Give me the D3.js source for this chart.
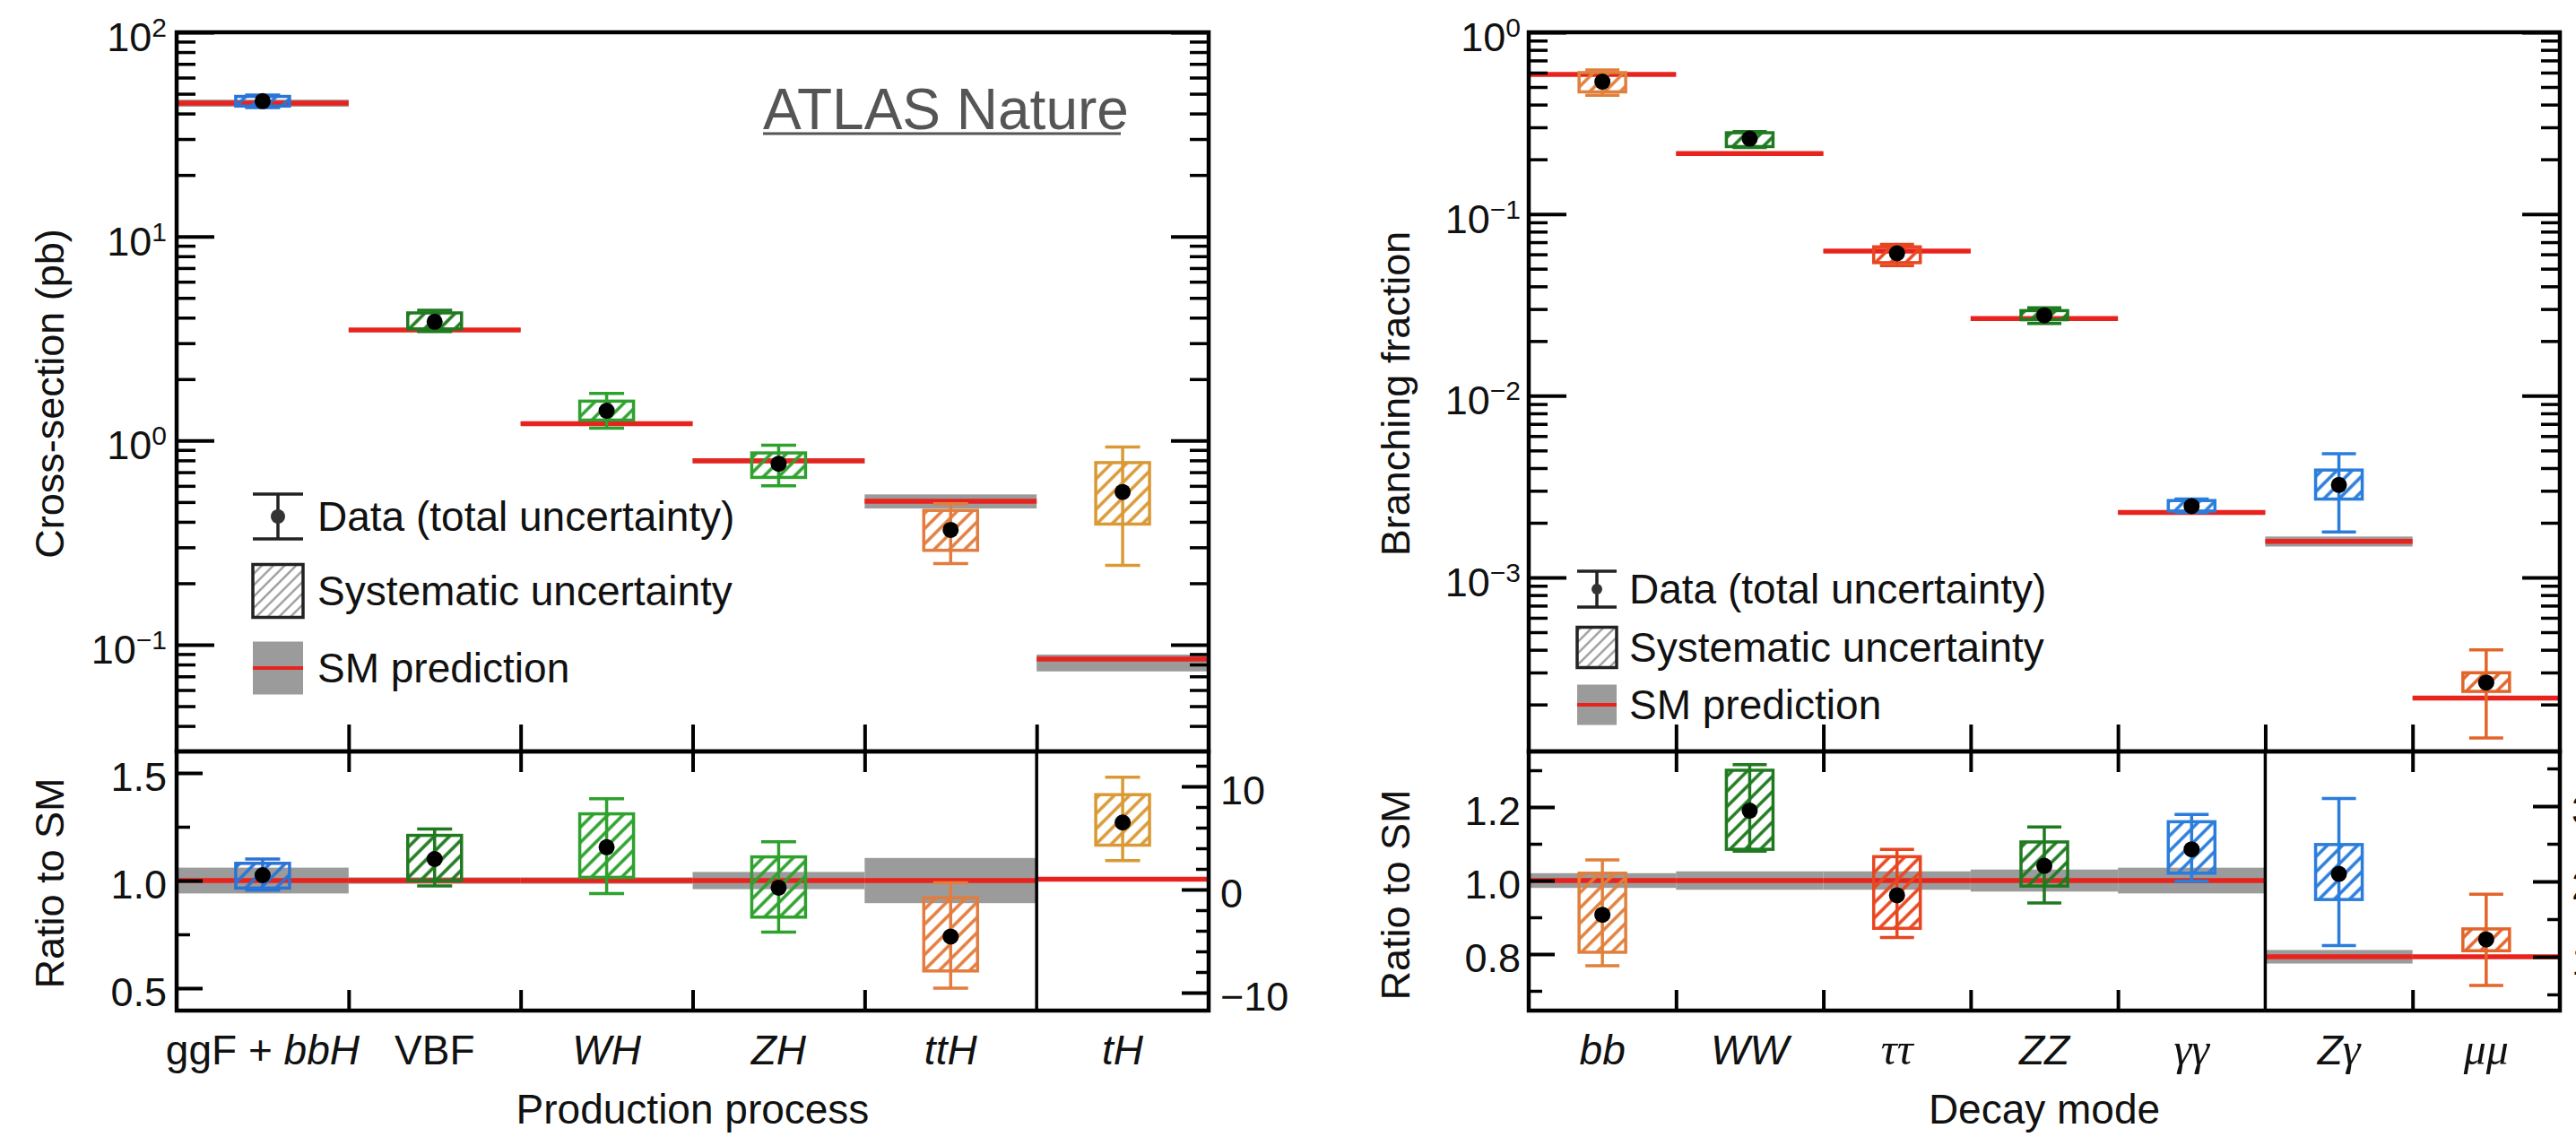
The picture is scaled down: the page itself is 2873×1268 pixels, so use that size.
<!DOCTYPE html>
<html>
<head>
<meta charset="utf-8">
<script src="https://cdn.jsdelivr.net/npm/d3@7/dist/d3.min.js"></script>
<style>
  body { margin: 0; background: #fff; }
  text { font-family: "Liberation Sans", Arial, Helvetica, sans-serif; fill: #111; }
</style>
</head>
<body>
<svg id="chart"></svg>
<script>
// ---------- production process: cross-sections (pb) ----------
let prodCats   = ['ggF+bbH', 'VBF', 'WH', 'ZH', 'ttH', 'tH'];
let prodLabels = [[['ggF + ', 'n'], ['bbH', 'i']], [['VBF', 'n']], [['WH', 'i']], [['ZH', 'i']], [['ttH', 'i']], [['tH', 'i']]];
let prodColors = ['#2a74d6', '#1f7a1f', '#2ea12e', '#2ea12e', '#e27d3f', '#d99a36'];
let xsObs   = [46, 3.82, 1.40, 0.77, 0.365, 0.56];
let xsSysLo = [43.5, 3.52, 1.26, 0.66, 0.29, 0.39];
let xsSysHi = [48.5, 4.22, 1.56, 0.87, 0.455, 0.78];
let xsTotLo = [42.8, 3.42, 1.15, 0.60, 0.25, 0.245];
let xsTotHi = [49.3, 4.35, 1.70, 0.95, 0.49, 0.93];
let xsSM    = [45, 3.48, 1.21, 0.796, 0.505, 0.085];
let xsSMLo  = [43.2, 3.42, 1.19, 0.775, 0.465, 0.074];
let xsSMHi  = [46.8, 3.55, 1.235, 0.82, 0.545, 0.0895];
// ratio to SM (tH is read on the right-hand axis)
let muObs   = [1.025, 1.10, 1.155, 0.967, 0.74, 6.5];
let muSysLo = [0.965, 1.00, 1.015, 0.83, 0.58, 4.3];
let muSysHi = [1.08, 1.21, 1.31, 1.11, 0.92, 9.2];
let muTotLo = [0.955, 0.975, 0.94, 0.76, 0.50, 2.8];
let muTotHi = [1.10, 1.24, 1.38, 1.18, 0.99, 10.9];
let muSMLo  = [0.94, 0.985, 0.985, 0.96, 0.895, 0.9];
let muSMHi  = [1.06, 1.015, 1.015, 1.04, 1.105, 1.1];

// ---------- decay mode: branching fractions ----------
let decCats   = ['bb', 'WW', 'tautau', 'ZZ', 'gamgam', 'Zgam', 'mumu'];
let decLabels = [[['bb', 'i']], [['WW', 'i']], [['ττ', 'g']], [['ZZ', 'i']], [['γγ', 'g']], [['Z', 'i'], ['γ', 'g']], [['μμ', 'g']]];
let decColors = ['#e0803c', '#1f7a1f', '#e8461f', '#1f7a1f', '#2a7ddb', '#2a7ddb', '#e2652a'];
let brObs   = [0.535, 0.26, 0.0608, 0.0277, 0.00247, 0.00323, 2.64e-4];
let brSysLo = [0.47, 0.235, 0.054, 0.0262, 0.00232, 0.0027, 2.36e-4];
let brSysHi = [0.60, 0.28, 0.066, 0.0294, 0.00265, 0.0039, 2.99e-4];
let brTotLo = [0.45, 0.232, 0.052, 0.025, 0.00228, 0.00178, 1.31e-4];
let brTotHi = [0.62, 0.284, 0.068, 0.0305, 0.0027, 0.0048, 4.0e-4];
let brSM    = [0.586, 0.215, 0.0625, 0.0266, 0.00228, 0.00158, 2.17e-4];
let brSMLo  = [0.575, 0.211, 0.0612, 0.026, 0.00223, 0.00148, 2.13e-4];
let brSMHi  = [0.597, 0.219, 0.0638, 0.0272, 0.00233, 0.00168, 2.21e-4];
// ratio to SM (Zgamma, mumu read on the right-hand axis)
let rObs   = [0.907, 1.19, 0.96, 1.04, 1.085, 2.1, 1.23];
let rSysLo = [0.805, 1.085, 0.87, 0.985, 1.02, 1.76, 1.08];
let rSysHi = [1.02, 1.30, 1.065, 1.105, 1.16, 2.49, 1.37];
let rTotLo = [0.768, 1.08, 0.845, 0.939, 0.998, 1.15, 0.62];
let rTotHi = [1.056, 1.315, 1.085, 1.146, 1.18, 3.1, 1.83];
let rSMLo  = [0.98, 0.975, 0.975, 0.97, 0.965, 0.91, 0.98];
let rSMHi  = [1.02, 1.025, 1.025, 1.03, 1.035, 1.09, 1.02];

let legendItems = ['Data (total uncertainty)', 'Systematic uncertainty', 'SM prediction'];

let W = 2873, H = 1268;
let RED = '#e8231e', GRAY = '#9b9b9b';
let svg = d3.select('#chart').attr('width', W).attr('height', H);
svg.append('rect').attr('width', W).attr('height', H).attr('fill', '#fff');
let defs = svg.append('defs');

let hatch = (color, gap, sw) => {
  let id = 'hatch' + color.slice(1) + '_' + gap;
  if (defs.select('#' + id).empty()) {
    let pat = defs.append('pattern').attr('id', id).
    attr('patternUnits', 'userSpaceOnUse').
    attr('width', gap).attr('height', gap).
    attr('patternTransform', 'rotate(45)');
    pat.append('line').attr('x1', gap / 2).attr('x2', gap / 2).
    attr('y1', 0).attr('y2', gap).
    attr('stroke', color).attr('stroke-width', sw);
  }
  return 'url(#' + id + ')';
};

let styleTicks = (sel, w) => {
  sel.select('.domain').remove();
  sel.selectAll('line').attr('stroke', '#000').attr('stroke-width', w);
};

let logMinor = (lo, hi) => {
  let out = [];
  for (let e = Math.floor(Math.log10(lo)); e <= Math.ceil(Math.log10(hi)); e++) {
    for (let m = 2; m <= 9; m++) {
      let v = m * Math.pow(10, e);
      if (v >= lo && v <= hi) out.push(v);
    }
  }
  return out;
};

let drawPanel = p => {
  let n = p.cats.length;
  let x = d3.scaleBand().domain(p.cats).range([p.x0, p.x1]);
  let bw = x.bandwidth();
  let xb = d3.scaleLinear().domain([0, n]).range([p.x0, p.x1]);
  let yU = d3.scaleLog().domain(p.logDomain).range(p.logRange);
  let yR = d3.scaleLinear().domain(p.rDomain).range(p.rRange);
  let yR2 = d3.scaleLinear().domain(p.r2Domain).range(p.r2Range);
  let yRat = i => i >= p.split ? yR2 : yR;
  let idx = d3.range(n);
  let cx = i => x(p.cats[i]) + bw / 2;
  let g = svg.append('g');

  // SM prediction: grey band + red line
  let bands = [
  { lo: i => yU(p.smLo[i]), hi: i => yU(p.smHi[i]), c: i => yU(p.sm[i]) },
  { lo: i => yRat(i)(p.rSMLo[i]), hi: i => yRat(i)(p.rSMHi[i]), c: i => yRat(i)(1) }];

  bands.forEach(b => {
    g.append('g').selectAll('rect').data(idx).enter().append('rect').
    attr('x', i => x(p.cats[i])).attr('width', bw).
    attr('y', b.hi).attr('height', i => b.lo(i) - b.hi(i)).
    attr('fill', GRAY);
    g.append('g').selectAll('line').data(idx).enter().append('line').
    attr('x1', i => x(p.cats[i])).attr('x2', i => x(p.cats[i]) + bw).
    attr('y1', b.c).attr('y2', b.c).
    attr('stroke', RED).attr('stroke-width', 5.5);
  });

  // measurements: hatched systematic box, total error bar, point
  let sets = [
  { y: () => yU, v: p.obs, sl: p.sysLo, sh: p.sysHi, tl: p.totLo, th: p.totHi },
  { y: yRat, v: p.rObs, sl: p.rSysLo, sh: p.rSysHi, tl: p.rTotLo, th: p.rTotHi }];

  sets.forEach(s => {
    let m = g.append('g').selectAll('g').data(idx).enter().append('g');
    m.append('rect').
    attr('x', i => cx(i) - p.boxW / 2).attr('width', p.boxW).
    attr('y', i => s.y(i)(s.sh[i])).
    attr('height', i => s.y(i)(s.sl[i]) - s.y(i)(s.sh[i])).
    attr('fill', i => hatch(p.colors[i], 12, 3.5)).
    attr('stroke', i => p.colors[i]).attr('stroke-width', 3.5);
    m.append('line').
    attr('x1', cx).attr('x2', cx).
    attr('y1', i => s.y(i)(s.th[i])).attr('y2', i => s.y(i)(s.tl[i])).
    attr('stroke', i => p.colors[i]).attr('stroke-width', 3.5);
    [s.th, s.tl].forEach(arr => {
      m.append('line').
      attr('x1', i => cx(i) - p.capW / 2).attr('x2', i => cx(i) + p.capW / 2).
      attr('y1', i => s.y(i)(arr[i])).attr('y2', i => s.y(i)(arr[i])).
      attr('stroke', i => p.colors[i]).attr('stroke-width', 3.5);
    });
    m.append('circle').
    attr('cx', cx).attr('cy', i => s.y(i)(s.v[i])).attr('r', 9).
    attr('fill', '#000');
  });

  // frames
  g.append('rect').attr('x', p.x0).attr('y', p.top).
  attr('width', p.x1 - p.x0).attr('height', p.mid - p.top).
  attr('fill', 'none').attr('stroke', '#000').attr('stroke-width', 4.5);
  g.append('rect').attr('x', p.x0).attr('y', p.mid).
  attr('width', p.x1 - p.x0).attr('height', p.bottom - p.mid).
  attr('fill', 'none').attr('stroke', '#000').attr('stroke-width', 4.5);
  g.append('line').attr('x1', xb(p.split)).attr('x2', xb(p.split)).
  attr('y1', p.mid).attr('y2', p.bottom).
  attr('stroke', '#000').attr('stroke-width', 3.5);

  // log axis ticks on both sides
  let minors = logMinor(yU.invert(p.mid), yU.invert(p.top));
  [[d3.axisLeft, p.x0], [d3.axisRight, p.x1]].forEach(([ax, xp]) => {
    g.append('g').attr('transform', 'translate(' + xp + ',0)').
    call(ax(yU).tickValues(p.logMajor).tickSize(-42).tickFormat('')).
    call(s => styleTicks(s, 4));
    g.append('g').attr('transform', 'translate(' + xp + ',0)').
    call(ax(yU).tickValues(minors).tickSize(-21).tickFormat('')).
    call(s => styleTicks(s, 3.5));
  });

  // category boundary ticks
  let inner = d3.range(1, n);
  let innerR = inner.filter(k => k !== p.split);
  g.append('g').attr('transform', 'translate(0,' + p.mid + ')').
  call(d3.axisBottom(xb).tickValues(inner).tickSize(-30).tickFormat('')).
  call(s => styleTicks(s, 4));
  g.append('g').attr('transform', 'translate(0,' + p.mid + ')').
  call(d3.axisTop(xb).tickValues(innerR).tickSize(-23).tickFormat('')).
  call(s => styleTicks(s, 4));
  g.append('g').attr('transform', 'translate(0,' + p.bottom + ')').
  call(d3.axisBottom(xb).tickValues(innerR).tickSize(-23).tickFormat('')).
  call(s => styleTicks(s, 4));

  // ratio axes
  g.append('g').attr('transform', 'translate(' + p.x0 + ',0)').
  call(d3.axisLeft(yR).tickValues(p.rMajor).tickSize(-29).tickFormat('')).
  call(s => styleTicks(s, 4));
  g.append('g').attr('transform', 'translate(' + p.x0 + ',0)').
  call(d3.axisLeft(yR).tickValues(p.rMinor).tickSize(-15).tickFormat('')).
  call(s => styleTicks(s, 3.5));
  g.append('g').attr('transform', 'translate(' + p.x1 + ',0)').
  call(d3.axisRight(yR2).tickValues(p.r2Major).tickSize(-30).tickFormat('')).
  call(s => styleTicks(s, 4));
  g.append('g').attr('transform', 'translate(' + p.x1 + ',0)').
  call(d3.axisRight(yR2).tickValues(p.r2Minor).tickSize(-14).tickFormat('')).
  call(s => styleTicks(s, 3.5));

  // tick labels
  p.logMajor.forEach(v => {
    let e = Math.round(Math.log10(v));
    let t = g.append('text').attr('x', p.x0 - p.labGap).attr('y', yU(v) + 21).
    attr('text-anchor', 'end').attr('font-size', 45);
    t.append('tspan').text('10');
    t.append('tspan').attr('dy', -16).attr('font-size', 30).text(String(e).replace('-', '\u2212'));
  });
  p.rMajor.forEach(v => {
    g.append('text').attr('x', p.x0 - p.labGap).attr('y', yR(v) + 20).
    attr('text-anchor', 'end').attr('font-size', 45).text(d3.format('.1f')(v));
  });
  p.r2Major.forEach(v => {
    g.append('text').attr('x', p.x1 + 13).attr('y', yR2(v) + 20).
    attr('font-size', 45).text(d3.format('d')(v));
  });

  // category labels
  p.labels.forEach((segs, i) => {
    let t = g.append('text').attr('x', cx(i)).attr('y', 1187).
    attr('text-anchor', 'middle').attr('font-size', 46);
    segs.forEach(([s, st]) => {
      let ts = t.append('tspan').text(s);
      if (st === 'i') ts.attr('font-style', 'italic');
      if (st === 'g') ts.attr('font-style', 'italic').
      attr('font-family', '"Liberation Serif", "DejaVu Serif", serif').attr('font-size', 50);
    });
  });

  // axis titles
  g.append('text').attr('x', (p.x0 + p.x1) / 2).attr('y', 1253).
  attr('text-anchor', 'middle').attr('font-size', 46).text(p.xTitle);
  g.append('text').attr('transform', 'translate(' + p.yTitleX + ',' + p.yTitleY + ') rotate(-90)').
  attr('text-anchor', 'middle').attr('font-size', 45).text(p.yTitle);
  g.append('text').attr('transform', 'translate(' + p.yTitleX + ',' + p.rTitleY + ') rotate(-90)').
  attr('text-anchor', 'middle').attr('font-size', 45).text('Ratio to SM');

  // legend
  let L = p.legend;
  let lg = g.append('g');
  lg.append('line').attr('x1', L.x + L.w / 2).attr('x2', L.x + L.w / 2).
  attr('y1', L.ys[0] - L.eh).attr('y2', L.ys[0] + L.eh).attr('stroke', '#222').attr('stroke-width', 3.5);
  [-1, 1].forEach(sg => {
    lg.append('line').attr('x1', L.x).attr('x2', L.x + L.w).
    attr('y1', L.ys[0] + sg * L.eh).attr('y2', L.ys[0] + sg * L.eh).
    attr('stroke', '#222').attr('stroke-width', 3.5);
  });
  lg.append('circle').attr('cx', L.x + L.w / 2).attr('cy', L.ys[0]).attr('r', L.r).attr('fill', '#333');
  lg.append('rect').attr('x', L.x).attr('y', L.ys[1] - L.bh / 2).
  attr('width', L.w).attr('height', L.bh).
  attr('fill', hatch('#8a8a8a', 9, 2)).attr('stroke', '#222').attr('stroke-width', 3.5);
  lg.append('rect').attr('x', L.x).attr('y', L.ys[2] - L.bh / 2).
  attr('width', L.w).attr('height', L.bh).attr('fill', GRAY);
  lg.append('line').attr('x1', L.x).attr('x2', L.x + L.w).
  attr('y1', L.ys[2]).attr('y2', L.ys[2]).attr('stroke', RED).attr('stroke-width', 4);
  legendItems.forEach((txt, k) => {
    lg.append('text').attr('x', L.tx).attr('y', L.ys[k] + 16).
    attr('font-size', 46).text(txt);
  });
};

drawPanel({
  cats: prodCats, labels: prodLabels, colors: prodColors,
  obs: xsObs, sysLo: xsSysLo, sysHi: xsSysHi, totLo: xsTotLo, totHi: xsTotHi,
  sm: xsSM, smLo: xsSMLo, smHi: xsSMHi,
  rObs: muObs, rSysLo: muSysLo, rSysHi: muSysHi, rTotLo: muTotLo, rTotHi: muTotHi,
  rSMLo: muSMLo, rSMHi: muSMHi,
  x0: 197, x1: 1348, top: 36, mid: 838, bottom: 1127, split: 5,
  boxW: 60, capW: 39, labGap: 11,
  logDomain: [0.1, 100], logRange: [719, 36], logMajor: [100, 10, 1, 0.1],
  rDomain: [0.5, 1.5], rRange: [1102, 862], rMajor: [0.5, 1, 1.5], rMinor: [0.75, 1.25],
  r2Domain: [-10, 10], r2Range: [1107, 877], r2Major: [-10, 0, 10], r2Minor: [-8, -6, -4, -2, 2, 4, 6, 8, 12],
  xTitle: 'Production process', yTitle: 'Cross-section (pb)',
  yTitleX: 71, yTitleY: 439, rTitleY: 985,
  legend: { x: 282, w: 56, tx: 354, ys: [576, 659, 745], eh: 25, r: 8, bh: 59 }
});

drawPanel({
  cats: decCats, labels: decLabels, colors: decColors,
  obs: brObs, sysLo: brSysLo, sysHi: brSysHi, totLo: brTotLo, totHi: brTotHi,
  sm: brSM, smLo: brSMLo, smHi: brSMHi,
  rObs: rObs, rSysLo: rSysLo, rSysHi: rSysHi, rTotLo: rTotLo, rTotHi: rTotHi,
  rSMLo: rSMLo, rSMHi: rSMHi,
  x0: 1705, x1: 2855, top: 36, mid: 838, bottom: 1127, split: 5,
  boxW: 52, capW: 38, labGap: 9,
  logDomain: [0.001, 1], logRange: [644, 36], logMajor: [1, 0.1, 0.01, 0.001],
  rDomain: [0.8, 1.2], rRange: [1064, 900], rMajor: [0.8, 1, 1.2], rMinor: [0.7, 0.9, 1.1, 1.3],
  r2Domain: [1, 3], r2Range: [1067, 899], r2Major: [1, 2, 3], r2Minor: [0.5, 1.5, 2.5, 3.5],
  xTitle: 'Decay mode', yTitle: 'Branching fraction',
  yTitleX: 1572, yTitleY: 439, rTitleY: 998,
  legend: { x: 1759, w: 44, tx: 1817, ys: [657, 722, 786], eh: 20, r: 6, bh: 45 }
});

// source tag
svg.append('text').attr('x', 851).attr('y', 144).attr('font-size', 64).
attr('fill', '#555').style('fill', '#555').text('ATLAS Nature');
svg.append('line').attr('x1', 851).attr('x2', 1250).attr('y1', 149).attr('y2', 149).
attr('stroke', '#555').attr('stroke-width', 3);
</script>
</body>
</html>
